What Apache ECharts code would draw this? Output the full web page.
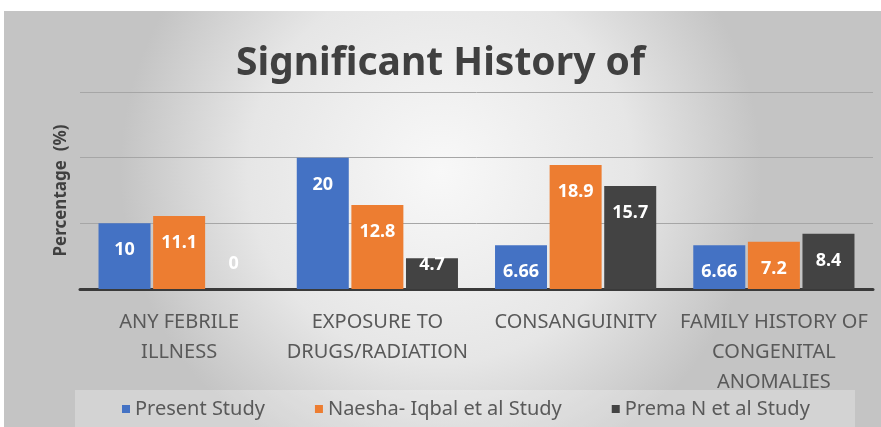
<!DOCTYPE html>
<html>
<head>
<meta charset="utf-8">
<script src="https://cdn.jsdelivr.net/npm/echarts@6/dist/echarts.min.js"></script>
<style>
  html, body { margin: 0; padding: 0; background: #fff; }
  #chart { width: 881px; height: 427px; }
</style>
</head>
<body>
<div id="chart"></div>
<script>
// categories and series values
const categories = [
  'ANY FEBRILE\nILLNESS',
  'EXPOSURE TO\nDRUGS/RADIATION',
  'CONSANGUINITY',
  'FAMILY HISTORY OF\nCONGENITAL\nANOMALIES'
]
const seriesNames = ['Present Study', 'Naesha- Iqbal et al Study', 'Prema N et al Study']
const presentStudy = [10, 20, 6.66, 6.66]
const naeshaIqbal = [11.1, 12.8, 18.9, 7.2]
const premaN = [0, 4.7, 15.7, 8.4]

const colors = ['#4472C4', '#ED7D31', '#434343']
const font = "'Liberation Sans Narrow', 'Noto Sans', sans-serif"

const chart = echarts.init(document.getElementById('chart'))

function makeSeries(name, values, color) {
  return {
    name: name,
    type: 'bar',
    barWidth: 52,
    barGap: '5%',
    itemStyle: { color: color },
    label: {
      show: true,
      position: 'insideTop',
      distance: 18,
      color: '#fff',
      fontFamily: font,
      fontWeight: 'bold',
      fontSize: 18
    },
    // small bars: Excel keeps the label near the bar top / above the axis
    data: values.map(v => {
      if (v === 0) return { value: v, label: { position: 'insideBottom', distance: 16 } }
      if (v < 6) return { value: v, label: { distance: -2 } }
      return v
    })
  }
}

chart.setOption({
  backgroundColor: new echarts.graphic.RadialGradient(0.5, 0.4, 0.75, [
    { offset: 0, color: '#f8f8f8' },
    { offset: 0.6, color: '#e6e6e6' },
    { offset: 1, color: '#c4c4c4' }
  ]),
  color: colors,
  textStyle: { fontFamily: font },
  graphic: [
    { type: 'rect', left: 0, top: 0, shape: { width: 881, height: 11 }, style: { fill: '#fff' } },
    { type: 'rect', left: 0, top: 0, shape: { width: 4, height: 427 }, style: { fill: '#fff' } },
    { type: 'rect', left: 75, top: 390, shape: { width: 780, height: 37 }, style: { fill: 'rgba(255,255,255,0.25)' } }
  ],
  title: {
    text: 'Significant History of',
    left: 'center',
    top: 39,
    textStyle: {
      fontFamily: font,
      fontSize: 39,
      fontWeight: 'bold',
      color: '#404040'
    }
  },
  legend: {
    data: seriesNames,
    bottom: 3,
    left: 117,
    icon: 'rect',
    itemWidth: 8,
    itemHeight: 8,
    itemGap: 50,
    itemTextGap: 6,
    textStyle: { color: '#595959', fontSize: 20, fontFamily: font }
  },
  grid: {
    left: 80,
    right: 8,
    top: 92,
    bottom: 138
  },
  xAxis: {
    type: 'category',
    data: categories,
    axisLine: { lineStyle: { color: '#3a3a3a', width: 3 } },
    axisTick: { show: false },
    axisLabel: {
      color: '#595959',
      fontSize: 20,
      lineHeight: 30,
      margin: 18,
      interval: 0,
      fontFamily: font
    }
  },
  yAxis: {
    type: 'value',
    min: 0,
    max: 30,
    interval: 10,
    name: 'Percentage  (%)',
    nameLocation: 'middle',
    nameGap: 10,
    nameTextStyle: { color: '#404040', fontSize: 17, fontWeight: 'bold', fontFamily: font },
    axisLabel: { show: false },
    axisLine: { show: false },
    axisTick: { show: false },
    splitLine: { lineStyle: { color: '#a6a6a6', width: 1 } }
  },
  series: [
    makeSeries(seriesNames[0], presentStudy, colors[0]),
    makeSeries(seriesNames[1], naeshaIqbal, colors[1]),
    makeSeries(seriesNames[2], premaN, colors[2])
  ]
})
</script>
</body>
</html>
